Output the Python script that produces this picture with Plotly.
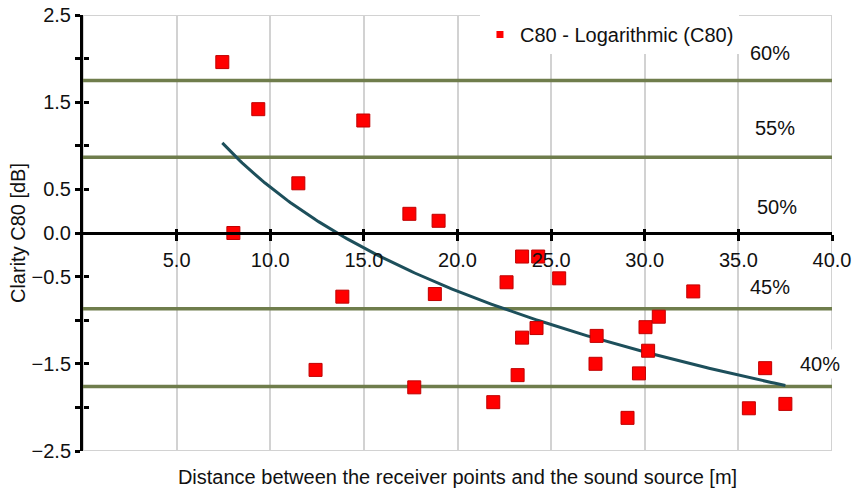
import numpy as np
import plotly.graph_objects as go

# Clarity C80 measured at each receiver position
distance_m = [7.44, 9.36, 11.5, 8.03, 14.97, 17.43, 18.99, 13.85, 18.79, 12.42,
              17.69, 21.91, 23.21, 23.45, 24.22, 22.62, 23.45, 24.31, 25.43, 32.59,
              30.75, 30.04, 27.43, 30.18, 27.37, 29.69, 29.08, 35.56, 36.43, 37.51]
c80_db = [1.96, 1.42, 0.57, 0.0, 1.29, 0.22, 0.14, -0.73, -0.70, -1.57,
          -1.77, -1.94, -1.63, -1.20, -1.09, -0.565, -0.27, -0.27, -0.52, -0.67,
          -0.96, -1.08, -1.18, -1.35, -1.50, -1.61, -2.12, -2.01, -1.55, -1.96]

# Boundaries between the percentage bands and their labels
band_limits_db = [1.75, 0.87, -0.87, -1.76]
band_labels = ["60%", "55%", "50%", "45%", "40%"]

x_ticks = [5, 10, 15, 20, 25, 30, 35, 40]
x_tick_labels = ["5.0", "10.0", "15.0", "20.0", "25.0", "30.0", "35.0", "40.0"]
y_ticks = [2.5, 2.0, 1.5, 1.0, 0.5, 0.0, -0.5, -1.0, -1.5, -2.0, -2.5]
y_tick_labels = ["2.5", "", "1.5", "", "0.5", "0.0", "\u22120.5", "", "\u22121.5", "", "\u22122.5"]

series_name = "C80 - Logarithmic (C80)"

FONT = "Arial, Liberation Sans, sans-serif"
FS = 20
GRID = "#d2d2d2"
BAND = "#6f7d4c"
TREND = "#1d4f5b"

# Logarithmic trendline fitted to the measurements
x_arr = np.array(distance_m)
y_arr = np.array(c80_db)
slope, intercept = np.polyfit(np.log(x_arr), y_arr, 1)
trend_x = np.linspace(x_arr.min(), x_arr.max(), 200)
trend_y = intercept + slope * np.log(trend_x)

fig = go.Figure()

fig.add_trace(go.Scatter(
    x=trend_x, y=trend_y, mode="lines",
    line=dict(color=TREND, width=3), showlegend=False, hoverinfo="skip",
))
fig.add_trace(go.Scatter(
    x=distance_m, y=c80_db, mode="markers",
    marker=dict(symbol="square", size=13, color="#ff0000",
                line=dict(color="#c00000", width=1)),
    showlegend=False,
))
# legend entry with a small swatch
fig.add_trace(go.Scatter(
    x=[None], y=[None], mode="markers", name=series_name,
    marker=dict(symbol="square", size=7, color="#ff0000"),
    xaxis="x2", yaxis="y2",
))
# carrier for the upward half of the zero-line ticks
fig.add_trace(go.Scatter(x=[None], y=[None], mode="markers", showlegend=False,
                         xaxis="x3", yaxis="y"))

shapes = [dict(type="rect", xref="x", yref="y", x0=0, x1=40, y0=-2.5, y1=2.5,
               line=dict(color=GRID, width=2), layer="between")]
for lvl in band_limits_db:
    shapes.append(dict(type="line", xref="x", yref="y", x0=0, x1=40, y0=lvl, y1=lvl,
                       line=dict(color=BAND, width=3.5), layer="between"))

label_pos = [(36.7, 2.06), (36.95, 1.20), (37.05, 0.30), (36.7, -0.62), (39.35, -1.50)]
annotations = []
for (ax_, ay_), txt in zip(label_pos, band_labels):
    annotations.append(dict(x=ax_, y=ay_, xref="x", yref="y", text=txt, showarrow=False,
                            font=dict(family=FONT, size=FS, color="#111"),
                            bgcolor="white", borderpad=3))

fig.update_layout(
    width=852, height=494,
    margin=dict(l=83, r=20, t=15, b=43, autoexpand=False),
    paper_bgcolor="white", plot_bgcolor="white",
    font=dict(family=FONT, size=FS, color="#111"),
    shapes=shapes, annotations=annotations,
    xaxis=dict(range=[0, 40], tickvals=x_ticks, showticklabels=False, ticks="",
               showgrid=True, gridcolor=GRID, gridwidth=2, zeroline=False, showline=False,
               automargin=False,
               title=dict(text="Distance between the receiver points and the sound source [m]",
                          font=dict(size=FS), standoff=18)),
    xaxis2=dict(range=[0, 40], overlaying="x", anchor="free", position=0.5,
                tickvals=x_ticks, ticktext=x_tick_labels, ticks="outside", ticklen=6,
                tickwidth=3, tickcolor="black", ticklabelstandoff=2,
                showline=True, linecolor="black", linewidth=3,
                showgrid=False, zeroline=False, automargin=False),
    xaxis3=dict(range=[0, 40], overlaying="x", anchor="free", position=0.5,
                tickvals=x_ticks, ticks="inside", ticklen=4, tickwidth=3, tickcolor="black",
                showticklabels=False, showline=False, showgrid=False, zeroline=False,
                automargin=False),
    yaxis=dict(range=[-2.5, 2.5], tickvals=y_ticks, ticktext=y_tick_labels,
               ticks="outside", ticklen=5, tickwidth=3, tickcolor="black",
               showline=True, linecolor="black", linewidth=3,
               showgrid=False, zeroline=False, automargin=False,
               title=dict(text="Clarity C80 [dB]", font=dict(size=FS), standoff=1)),
    yaxis2=dict(range=[-2.5, 2.5], overlaying="y", anchor="free", position=0,
                tickvals=y_ticks, ticks="inside", ticklen=5, tickwidth=3, tickcolor="black",
                showticklabels=False, showline=False, showgrid=False, zeroline=False,
                automargin=False),
    legend=dict(x=0.53, y=1.0, xanchor="left", yanchor="top", bgcolor="white",
                borderwidth=0, font=dict(size=FS)),
)

fig.write_html("out.html")
